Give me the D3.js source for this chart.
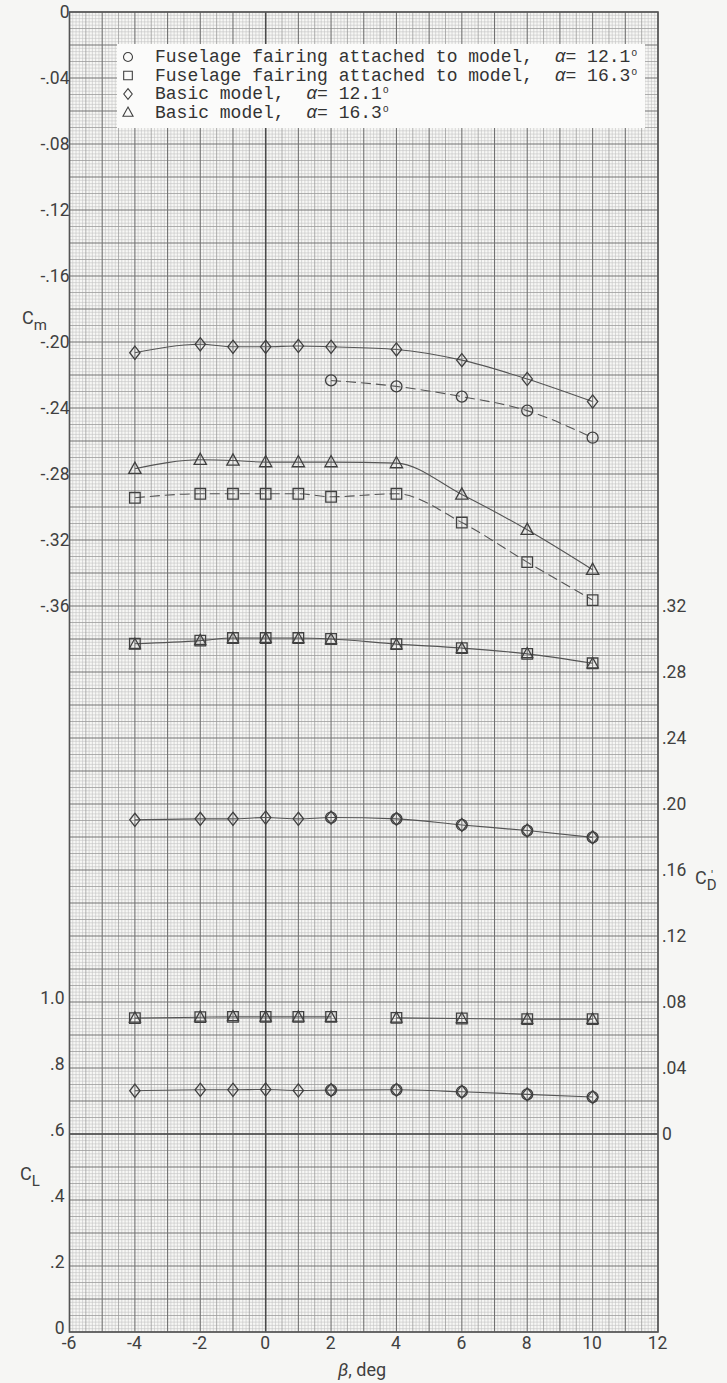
<!DOCTYPE html>
<html><head><meta charset="utf-8">
<script src="https://cdn.jsdelivr.net/npm/d3@7"></script>
<style>
html,body{margin:0;padding:0;background:#f6f6f4;}
svg{display:block;}
</style></head>
<body>
<svg id="chart" width="727" height="1383"></svg>
<script>
// ---------------- DATA ----------------
const beta = [-4, -2, -1, 0, 1, 2, 4, 6, 8, 10];
const betaFairing12 = [2, 4, 6, 8, 10];

// Pitching moment Cm
const cmFairing12 = [-0.2233, -0.2269, -0.2331, -0.2416, -0.258];
const cmFairing16 = [-0.2944, -0.292, -0.292, -0.292, -0.292, -0.2938, -0.292, -0.3094, -0.3334, -0.3564];
const cmBasic12   = [-0.2065, -0.2014, -0.2029, -0.2029, -0.2024, -0.2029, -0.2045, -0.211, -0.2224, -0.2361];
const cmBasic16   = [-0.2768, -0.2714, -0.2718, -0.2728, -0.2728, -0.2728, -0.2734, -0.2924, -0.3138, -0.338];

// Drag C'D
const cdFairing12 = [0.1918, 0.191, 0.1873, 0.1839, 0.1798];
const cdFairing16 = [0.2971, 0.299, 0.3006, 0.3006, 0.3006, 0.300, 0.2969, 0.2945, 0.291, 0.2853];
const cdBasic12   = [0.1904, 0.191, 0.191, 0.1918, 0.191, 0.1918, 0.191, 0.1873, 0.1839, 0.1798];
const cdBasic16   = [0.2968, 0.2992, 0.3004, 0.3005, 0.3003, 0.2998, 0.2966, 0.2943, 0.2912, 0.2851];

// Lift CL
const clFairing12 = [0.733, 0.734, 0.728, 0.720, 0.712];
const clFairing16 = [0.951, 0.954, 0.955, 0.955, 0.955, 0.955, 0.952, 0.950, 0.948, 0.948];
const clBasic12   = [0.731, 0.734, 0.734, 0.735, 0.732, 0.733, 0.734, 0.728, 0.720, 0.712];
const clBasic16   = [0.952, 0.955, 0.956, 0.955, 0.955, 0.954, 0.952, 0.950, 0.948, 0.948];
const clSquareBreak = [2, 4]; // faired line is interrupted between these beta values

// Tick values / labels
const xTicks = [-6, -4, -2, 0, 2, 4, 6, 8, 10, 12];
const cmTicks = [0, -0.04, -0.08, -0.12, -0.16, -0.20, -0.24, -0.28, -0.32, -0.36];
const cmTickLabels = ["0", "-.04", "-.08", "-.12", "-.16", "-.20", "-.24", "-.28", "-.32", "-.36"];
const cdTicks = [0.32, 0.28, 0.24, 0.20, 0.16, 0.12, 0.08, 0.04, 0];
const cdTickLabels = [".32", ".28", ".24", ".20", ".16", ".12", ".08", ".04", "0"];
const clTicks = [1.0, 0.8, 0.6, 0.4, 0.2, 0];
const clTickLabels = ["1.0", ".8", ".6", ".4", ".2", "0"];

const legendLabels = [
  ["circle",   "Fuselage fairing attached to model,  ", "12.1"],
  ["square",   "Fuselage fairing attached to model,  ", "16.3"],
  ["diamond",  "Basic model,  ", "12.1"],
  ["triangle", "Basic model,  ", "16.3"]
];

// ---------------- LAYOUT ----------------
const svg = d3.select("#chart");
const L = 69.5, R = 658, T = 12, B = 1332;
const x = d3.scaleLinear().domain([-6, 12]).range([L, R]);
const yCm = d3.scaleLinear().domain([0, -0.80]).range([T, B]);
const yCD = d3.scaleLinear().domain([0, 0.32]).range([yCm(-0.68), yCm(-0.36)]);
const yCL = d3.scaleLinear().domain([0, 1.0]).range([B, yCm(-0.60)]);

const ink = "#404040";
const font = "Roboto, 'Liberation Sans', sans-serif";
const mono = "'Liberation Mono', 'Courier New', monospace";

// paper
svg.append("rect").attr("x", L).attr("y", T).attr("width", R - L).attr("height", B - T).attr("fill", "#f7f7f5");

// ---------------- GRID ----------------
const g = svg.append("g");
const vFine = d3.range(0, 181).map(i => -6 + i * 0.1);
const hFine = d3.range(0, 401).map(i => -i * 0.002);
function vClass(i) { return i % 10 === 0 ? 2 : (i % 5 === 0 ? 1 : 0); }
const gStyles = [
  {c: "#c2c2c2", w: 0.6},
  {c: "#9c9c9c", w: 0.8},
  {c: "#727272", w: 1.1}
];
[0, 1, 2].forEach(level => {
  g.append("g").selectAll("line")
    .data(vFine.filter((d, i) => vClass(i) === level))
    .join("line")
    .attr("x1", d => x(d)).attr("x2", d => x(d))
    .attr("y1", T).attr("y2", B)
    .attr("stroke", gStyles[level].c).attr("stroke-width", gStyles[level].w);
  g.append("g").selectAll("line")
    .data(hFine.filter((d, i) => vClass(i) === level))
    .join("line")
    .attr("y1", d => yCm(d)).attr("y2", d => yCm(d))
    .attr("x1", L).attr("x2", R)
    .attr("stroke", gStyles[level].c).attr("stroke-width", gStyles[level].w);
});
// zero lines
g.append("line").attr("x1", x(0)).attr("x2", x(0)).attr("y1", T).attr("y2", B)
  .attr("stroke", "#4a4a4a").attr("stroke-width", 1.5);
g.append("line").attr("y1", yCD(0)).attr("y2", yCD(0)).attr("x1", L).attr("x2", R)
  .attr("stroke", "#4a4a4a").attr("stroke-width", 1.7);
// frame
svg.append("rect").attr("x", L).attr("y", T).attr("width", R - L).attr("height", B - T)
  .attr("fill", "none").attr("stroke", "#555").attr("stroke-width", 1.6);

// ---------------- AXES ----------------
function styleAxis(sel) {
  sel.select(".domain").remove();
  sel.selectAll("text").attr("font-family", font).attr("font-size", 17.5).attr("fill", ink);
}
svg.append("g").attr("transform", `translate(${L},0)`)
  .call(d3.axisLeft(yCm).tickValues(cmTicks).tickSize(0).tickPadding(0)
    .tickFormat((d, i) => cmTickLabels[i]))
  .call(styleAxis);
svg.append("g").attr("transform", `translate(${L - 5},-4)`)
  .call(d3.axisLeft(yCL).tickValues(clTicks).tickSize(0).tickPadding(0)
    .tickFormat((d, i) => clTickLabels[i]))
  .call(styleAxis);
svg.append("g").attr("transform", `translate(${R + 4},0)`)
  .call(d3.axisRight(yCD).tickValues(cdTicks).tickSize(0).tickPadding(0)
    .tickFormat((d, i) => cdTickLabels[i]))
  .call(styleAxis);
svg.append("g").attr("transform", `translate(-1,${B + 3})`)
  .call(d3.axisBottom(x).tickValues(xTicks).tickSize(0).tickPadding(2)
    .tickFormat(d => String(d)))
  .call(styleAxis);

// axis titles
function title(xp, yp, main, sub, prime) {
  const t = svg.append("text").attr("x", xp).attr("y", yp)
    .attr("font-family", font).attr("font-size", 18).attr("fill", ink);
  t.append("tspan").text(main);
  t.append("tspan").attr("dy", 6).attr("font-size", 15).text(sub);
  if (prime) {
    svg.append("text").attr("x", xp + 16).attr("y", yp - 4)
      .attr("font-family", font).attr("font-size", 12).attr("fill", ink).text("\u2032");
  }
}
title(22, 324, "C", "m", false);
title(20, 1180, "C", "L", false);
title(695, 884, "C", "D", true);
svg.append("text").attr("x", 362).attr("y", 1376).attr("text-anchor", "middle")
  .attr("font-family", font).attr("font-size", 18).attr("fill", ink)
  .html('<tspan font-style="italic">\u03B2</tspan>, deg');

// ---------------- SYMBOLS ----------------
function symPath(type, s) {
  const p = d3.path();
  if (type === "circle") { p.arc(0, 0, s * 0.5, 0, 2 * Math.PI); }
  else if (type === "square") { p.rect(-s * 0.48, -s * 0.48, s * 0.96, s * 0.96); }
  else if (type === "diamond") { p.moveTo(0, -s * 0.6); p.lineTo(s * 0.47, 0); p.lineTo(0, s * 0.6); p.lineTo(-s * 0.47, 0); p.closePath(); }
  else { p.moveTo(0, -s * 0.6); p.lineTo(s * 0.56, s * 0.42); p.lineTo(-s * 0.56, s * 0.42); p.closePath(); }
  return p.toString();
}
function marks(xs, ys, yScale, type, size) {
  svg.append("g").selectAll("path").data(xs.map((b, i) => [b, ys[i]])).join("path")
    .attr("transform", d => `translate(${x(d[0])},${yScale(d[1])})`)
    .attr("d", symPath(type, size))
    .attr("fill", "none").attr("stroke", ink).attr("stroke-width", 1.3);
}
function curve(xs, ys, yScale, dashed) {
  const line = d3.line().x(d => x(d[0])).y(d => yScale(d[1])).curve(d3.curveMonotoneX);
  svg.append("path").attr("d", line(xs.map((b, i) => [b, ys[i]])))
    .attr("fill", "none").attr("stroke", "#555").attr("stroke-width", 1.1)
    .attr("stroke-dasharray", dashed ? "10,5" : null);
}

// Cm
curve(betaFairing12, cmFairing12, yCm, true);
curve(beta, cmFairing16, yCm, true);
curve(beta, cmBasic12, yCm, false);
curve(beta, cmBasic16, yCm, false);
marks(betaFairing12, cmFairing12, yCm, "circle", 11);
marks(beta, cmFairing16, yCm, "square", 11);
marks(beta, cmBasic12, yCm, "diamond", 11);
marks(beta, cmBasic16, yCm, "triangle", 11);

// CD
curve(beta, cdFairing16, yCD, false);
curve(beta, cdBasic12, yCD, false);
marks(betaFairing12, cdFairing12, yCD, "circle", 11);
marks(beta, cdFairing16, yCD, "square", 11);
marks(beta, cdBasic12, yCD, "diamond", 11);
marks(beta, cdBasic16, yCD, "triangle", 10);

// CL
const idxA = beta.map((b, i) => i).filter(i => beta[i] <= clSquareBreak[0]);
const idxB = beta.map((b, i) => i).filter(i => beta[i] >= clSquareBreak[1]);
curve(idxA.map(i => beta[i]), idxA.map(i => clFairing16[i]), yCL, false);
curve(idxB.map(i => beta[i]), idxB.map(i => clFairing16[i]), yCL, false);
curve(beta, clBasic12, yCL, false);
marks(betaFairing12, clFairing12, yCL, "circle", 11);
marks(beta, clFairing16, yCL, "square", 11);
marks(beta, clBasic12, yCL, "diamond", 11);
marks(beta, clBasic16, yCL, "triangle", 10);

// ---------------- LEGEND ----------------
const lg = svg.append("g");
lg.append("rect").attr("x", 117).attr("y", 44).attr("width", 528).attr("height", 84)
  .attr("fill", "#fbfbfa");
legendLabels.forEach((row, i) => {
  const yy = 62 + i * 18.5;
  lg.append("path").attr("transform", `translate(128,${yy - 5})`).attr("d", symPath(row[0], 9))
    .attr("fill", "none").attr("stroke", ink).attr("stroke-width", 1.1);
  const t = lg.append("text").attr("x", 155).attr("y", yy)
    .attr("font-family", mono).attr("font-size", 18)
    .attr("fill", "#333").attr("xml:space", "preserve");
  t.append("tspan").text(row[1]);
  t.append("tspan").attr("font-style", "italic").text("\u03B1");
  t.append("tspan").text("= " + row[2]);
  const w = t.node().getComputedTextLength();
  lg.append("text").attr("x", 155 + w + 1).attr("y", yy - 6)
    .attr("font-family", mono).attr("font-size", 10)
    .attr("fill", "#333").text("o");
});
</script>
</body></html>
